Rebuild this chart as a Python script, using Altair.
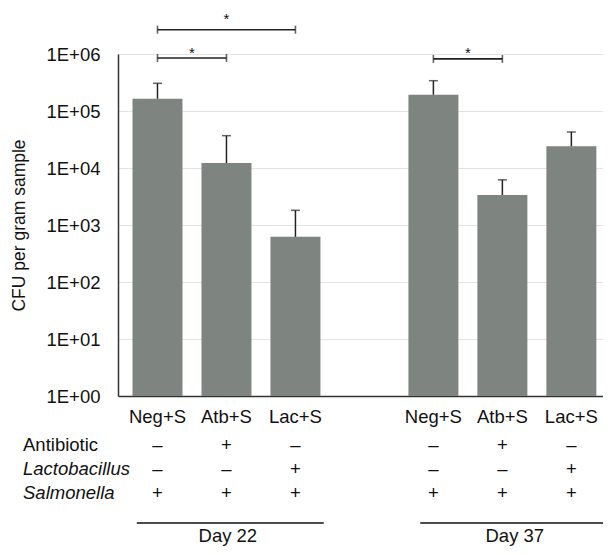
import altair as alt
import pandas as pd

# ---------------- data ----------------
groups = ["Neg+S", "Atb+S", "Lac+S", "Neg+S", "Atb+S", "Lac+S"]
days = ["Day 22", "Day 22", "Day 22", "Day 37", "Day 37", "Day 37"]
cfu_mean = [1.64e5, 1.22e4, 6.2e2, 1.93e5, 3.36e3, 2.40e4]
cfu_upper = [3.06e5, 3.69e4, 1.81e3, 3.40e5, 6.2e3, 4.28e4]
antibiotic = ["–", "+", "–", "–", "+", "–"]
lactobacillus = ["–", "–", "+", "–", "–", "+"]
salmonella = ["+", "+", "+", "+", "+", "+"]
row_labels = ["Antibiotic", "Lactobacillus", "Salmonella"]
row_italic = [False, True, True]
y_ticks = [1, 10, 100, 1e3, 1e4, 1e5, 1e6]

# significance brackets (bar index from / to, bracket level, star level)
sig_from = [0, 0, 3]
sig_to = [1, 2, 4]
sig_level = [8.5e5, 2.67e6, 8.2e5]
sig_star = [1.17e6, 4.6e6, 1.17e6]

day_names = ["Day 22", "Day 37"]

# ---------------- tables ----------------
pos = [i + (1 if d == "Day 37" else 0) for i, d in enumerate(days)]
bars = pd.DataFrame({
    "pos": pos, "group": groups, "day": days,
    "mean": cfu_mean, "upper": cfu_upper,
    "antibiotic": antibiotic, "lactobacillus": lactobacillus,
    "salmonella": salmonella,
})
sig = pd.DataFrame({
    "x1": [pos[i] for i in sig_from], "x2": [pos[i] for i in sig_to],
    "level": sig_level, "star": sig_star,
})
sig["xm"] = (sig["x1"] + sig["x2"]) / 2
sig_ends = pd.DataFrame({
    "x": list(sig["x1"]) + list(sig["x2"]),
    "level": list(sig["level"]) * 2,
})


def day_pos(n):
    return [p for p, d in zip(pos, days) if d == n]


day_tbl = pd.DataFrame({
    "day": day_names,
    "x1": [min(day_pos(n)) - (0.3 if n == "Day 22" else 0.19) for n in day_names],
    "x2": [max(day_pos(n)) + (0.41 if n == "Day 22" else 0.7) for n in day_names],
    "xm": [sum(day_pos(n)) / 3 + (0.02 if n == "Day 22" else 0.18) for n in day_names],
})

FONT = "Liberation Sans"
FS = 18.5
INK = "#111111"
ROW_Y = [391, 415, 439]

STEP = 70.43           # px per slot
PLOT_W = 485           # plot area visible inside the window
xscale = alt.Scale(domain=[-0.5, -0.5 + PLOT_W / STEP], nice=False, zero=False)
yscale = alt.Scale(type="log", domain=[1, 1e6], nice=False)

base = alt.Chart(bars)

bar_layer = base.mark_bar(size=50, color="#7e8581").encode(
    x=alt.X("pos:Q", scale=xscale,
            axis=alt.Axis(labels=False, ticks=False, grid=False, title=None,
                          domainColor="#333333", domainWidth=1.5)),
    y=alt.Y("mean:Q", scale=yscale,
            axis=alt.Axis(values=y_ticks,
                          labelExpr="'1E+0' + round(log(datum.value) / LN10)",
                          ticks=False, labelPadding=18, labelFontSize=FS,
                          labelFont=FONT, labelColor=INK,
                          grid=True, gridColor="#e3e3e3", gridWidth=1.2,
                          domainColor="#333333", domainWidth=1.5,
                          title="CFU per gram sample", titleFont=FONT,
                          titleFontSize=17.5, titleFontWeight="normal",
                          titleColor=INK, titleAngle=-90, titleX=-99,
                          titleY=171, titleAlign="center",
                          titleBaseline="middle")),
    y2=alt.datum(1),
)

err_rule = base.mark_rule(color="#222222", strokeWidth=1.5).encode(
    x="pos:Q", y="mean:Q", y2="upper:Q")
err_cap = base.mark_tick(orient="horizontal", size=9, thickness=1.5,
                         color="#222222").encode(x="pos:Q", y="upper:Q")

sig_rule = alt.Chart(sig).mark_rule(color="#222222", strokeWidth=1.6).encode(
    x="x1:Q", x2="x2:Q", y="level:Q")
sig_tick = alt.Chart(sig_ends).mark_tick(orient="vertical", size=8, thickness=1.6,
                                         color="#222222").encode(
    x="x:Q", y="level:Q")
sig_text = alt.Chart(sig).mark_text(text="*", font=FONT, fontSize=15, color=INK,
                                    baseline="middle", dy=3).encode(
    x="xm:Q", y="star:Q")

group_text = base.mark_text(font=FONT, fontSize=FS, color=INK,
                            baseline="middle").encode(
    x="pos:Q", y=alt.value(363), text="group:N")

sign_layers = []
for col, ypix in zip(["antibiotic", "lactobacillus", "salmonella"], ROW_Y):
    sign_layers.append(base.mark_text(font=FONT, fontSize=FS, color=INK,
                                      baseline="middle").encode(
        x="pos:Q", y=alt.value(ypix), text=f"{col}:N"))

row_layers = []
for label, ital, ypix in zip(row_labels, row_italic, ROW_Y):
    row_layers.append(alt.Chart(pd.DataFrame({"label": [label]})).mark_text(
        font=FONT, fontSize=FS, fontStyle="italic" if ital else "normal",
        color=INK, align="left", baseline="middle").encode(
        x=alt.value(-95), y=alt.value(ypix), text="label:N"))

day_rule = alt.Chart(day_tbl).mark_rule(color="#111111", strokeWidth=1.5).encode(
    x="x1:Q", x2="x2:Q", y=alt.value(469))
day_text = alt.Chart(day_tbl).mark_text(font=FONT, fontSize=FS, color=INK,
                                        baseline="alphabetic").encode(
    x="xm:Q", y=alt.value(488), text="day:N")

chart = alt.layer(
    bar_layer, err_rule, err_cap, sig_rule, sig_tick, sig_text,
    group_text, *sign_layers, *row_layers, day_rule, day_text,
).properties(
    width=PLOT_W, height=342,
    autosize=alt.AutoSizeParams(type="none"),
    padding={"left": 110, "top": 46, "right": 0, "bottom": 151},
).configure_view(stroke=None)

chart.save("out.html", embed_options={"renderer": "svg", "actions": False})
